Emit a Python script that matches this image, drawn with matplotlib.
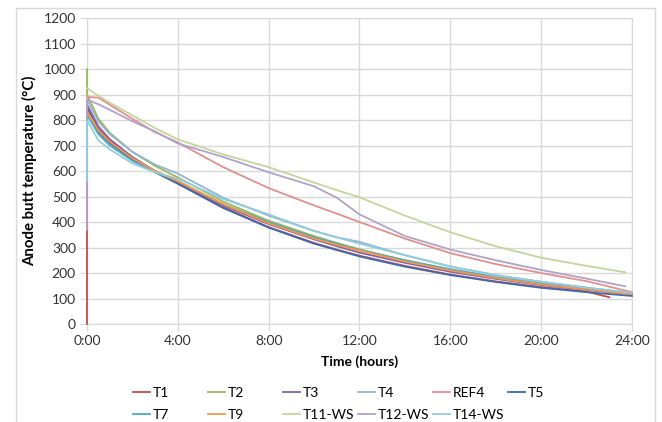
import matplotlib.pyplot as plt
from matplotlib.patches import Rectangle

# time in hours (first 0 repeated -> start jump at 0:00)
hours = [0, 0, 0.5, 1, 2, 3, 4, 6, 8, 10, 11, 12, 14, 16, 18, 20, 22, 24]
hours_t1 = [0, 0, 0.5, 1, 2, 3, 4, 6, 8, 10, 11, 12, 14, 16, 18, 20, 22, 23]
hours_ws = [0, 0, 0.5, 1, 2, 3, 4, 6, 8, 10, 11, 12, 14, 16, 18, 20, 22, 23.7]

T1 = [0, 850, 765, 720, 650, 598, 553, 458, 380, 318, 292, 268, 228, 194, 167, 145, 127, 105]
T2 = [1000, 900, 805, 750, 675, 620, 575, 480, 405, 345, 318, 293, 250, 213, 183, 158, 138, 120]
T3 = [860, 860, 775, 725, 655, 600, 560, 465, 392, 332, 305, 280, 240, 205, 177, 153, 133, 117]
T4 = [880, 880, 795, 745, 675, 625, 590, 495, 425, 365, 340, 322, 270, 226, 192, 166, 143, 122]
REF4 = [890, 890, 888, 860, 805, 752, 712, 615, 533, 465, 433, 400, 335, 278, 235, 200, 168, 125]
T5 = [840, 840, 755, 710, 645, 595, 550, 455, 378, 315, 290, 265, 225, 192, 165, 142, 125, 110]
T7 = [820, 820, 745, 700, 640, 595, 560, 470, 400, 340, 315, 290, 250, 215, 185, 160, 140, 118]
T9 = [835, 835, 760, 715, 650, 600, 560, 470, 395, 335, 310, 288, 245, 210, 180, 155, 135, 117]
T11_WS = [925, 925, 895, 868, 818, 768, 724, 665, 615, 555, 525, 497, 425, 360, 305, 260, 228, 203]
T12_WS = [370, 880, 862, 840, 795, 755, 708, 655, 595, 540, 495, 430, 345, 292, 250, 212, 178, 148]
T14_WS = [560, 800, 720, 685, 630, 595, 570, 490, 430, 365, 340, 315, 270, 225, 190, 165, 142, 122]

series = [
    ('T1', hours_t1, T1, '#C0504D'),
    ('T2', hours, T2, '#9BBB59'),
    ('T3', hours, T3, '#7F62A8'),
    ('T4', hours, T4, '#95B3D7'),
    ('REF4', hours, REF4, '#E0908E'),
    ('T5', hours, T5, '#3E68B0'),
    ('T7', hours, T7, '#4BACC6'),
    ('T9', hours, T9, '#F79646'),
    ('T11-WS', hours_ws, T11_WS, '#C3D69B'),
    ('T12-WS', hours_ws, T12_WS, '#B3A2C7'),
    ('T14-WS', hours, T14_WS, '#93CDDD'),
]

plt.rcParams['font.family'] = ['Lato', 'DejaVu Sans']
fig = plt.figure(figsize=(6.62, 4.22), dpi=100)
ax = fig.add_axes([0.1314, 0.2322, 0.8233, 0.7251])

lines = []
for name, t, v, c in series:
    ln, = ax.plot(t, v, color=c, lw=1.3, label=name, zorder=3, clip_on=False)
    lines.append(ln)

ax.set_xlim(0, 24)
ax.set_ylim(0, 1200)
ax.set_xticks(range(0, 25, 4))
ax.set_xticklabels(['%d:00' % h for h in range(0, 25, 4)])
ax.set_yticks(range(0, 1201, 100))
ax.grid(color='#D9D9D9', lw=1)
ax.set_axisbelow(True)
for s in ax.spines.values():
    s.set_color('#D9D9D9')
ax.tick_params(length=5, color='#D9D9D9', labelsize=10, labelcolor='#333333', pad=3)
ax.set_xlabel('Time (hours)', fontsize=10, fontweight='bold', labelpad=6)
ax.set_ylabel('Anode butt temperature (°C)', fontsize=10.8, fontweight='bold', labelpad=5)

# Excel style legend: fixed-width columns, filled row by row
for i, ln in enumerate(lines):
    row, col = divmod(i, 6)
    x = (133 + 75 * col) / 662
    y = 1 - (393 + 22 * row) / 422
    leg = fig.legend([ln], [ln.get_label()], loc='center left', bbox_to_anchor=(x, y),
                     frameon=False, fontsize=10, handlelength=1.2, handletextpad=0.2,
                     borderpad=0, borderaxespad=0)

fig.patches.append(Rectangle((16 / 662, -0.05), 639 / 662, 1.05 - 8 / 422,
                             transform=fig.transFigure, fill=False,
                             edgecolor='#D9D9D9', lw=1))

fig.savefig('out.png', dpi=100)
